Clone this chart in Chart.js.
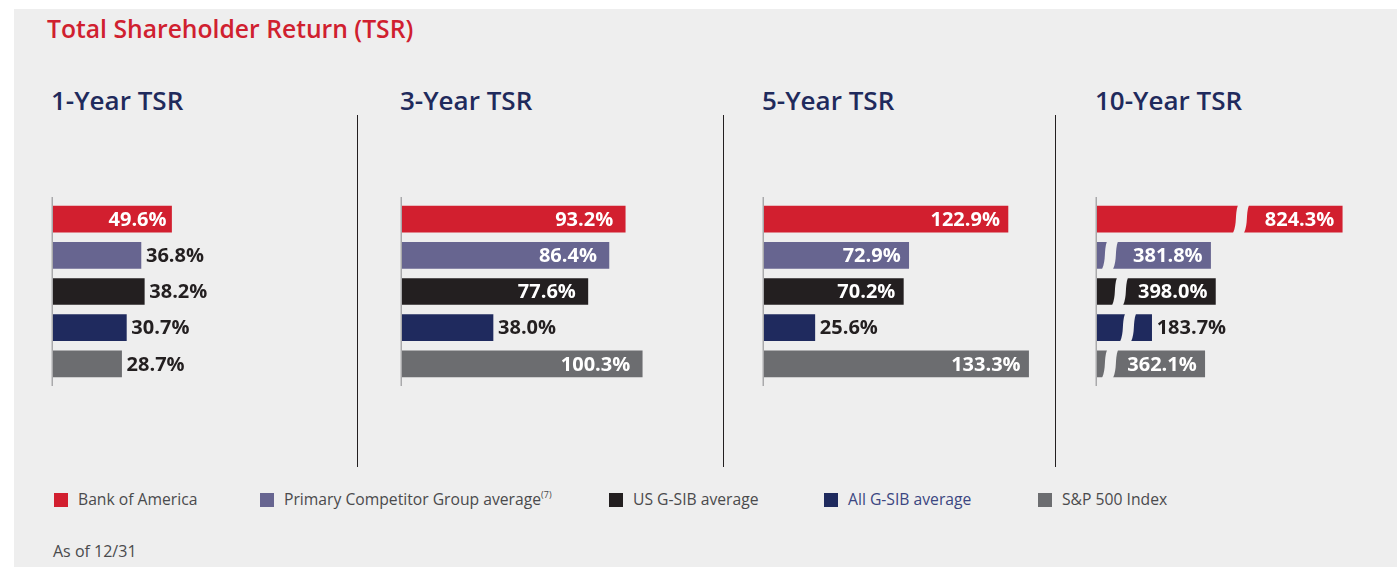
<!DOCTYPE html>
<html>
<head>
<meta charset="utf-8">
<script src="https://cdn.jsdelivr.net/npm/chart.js@4.4.1/dist/chart.umd.min.js"></script>
<style>
  html, body { margin: 0; padding: 0; background: #ffffff; }
  body { width: 1397px; height: 567px; position: relative; overflow: hidden; font-family: "Open Sans", sans-serif; }
  #panel { position: absolute; left: 14px; top: 9px; width: 1383px; height: 558px; background: #eeeeee; }
  .abs { position: absolute; white-space: nowrap; }
  #title { left: 47px; top: 12px; font-size: 24.7px; font-weight: 600; color: #d0202f; }
  .head { top: 82px; font-size: 26px; font-weight: 600; color: #1f2a5c; }
  .sep { width: 1px; top: 115px; height: 352px; background: #231f20; }
  .sw { width: 14px; height: 14px; top: 493px; }
  .lg { top: 488px; font-size: 15.7px; color: #4a4a4c; }
  .lg sup { font-size: 9px; vertical-align: 7px; }
  #asof { left: 53px; top: 540px; font-size: 16px; color: #4a4a4c; }
  canvas { position: absolute; }
</style>
</head>
<body>
<div id="panel"></div>
<div id="title" class="abs">Total Shareholder Return (TSR)</div>
<div id="asof" class="abs">As of 12/31</div>

<script>
const groups = ["Bank of America", "Primary Competitor Group average", "US G-SIB average", "All G-SIB average", "S&P 500 Index"];
const periods = ["1-Year TSR", "3-Year TSR", "5-Year TSR", "10-Year TSR"];
const tsr1 = [49.6, 36.8, 38.2, 30.7, 28.7];
const tsr3 = [93.2, 86.4, 77.6, 38.0, 100.3];
const tsr5 = [122.9, 72.9, 70.2, 25.6, 133.3];
const tsr10 = [824.3, 381.8, 398.0, 183.7, 362.1];

const colors = ["#d21f2f", "#676590", "#231f20", "#1f2a5e", "#6c6d70"];

// layout of the four panels (bar start x, px per %, inner label padding)
const panels = [
  { data: tsr1, left: 53, width: 290, scale: 2.39, pad: 5 },
  { data: tsr3, left: 402, width: 300, scale: 2.395, pad: 12 },
  { data: tsr5, left: 764, width: 290, scale: 1.985, pad: 8 },
  { data: tsr10, left: 1097, width: 300, scale: 0.2975, pad: 8, breaks: [144, 13, 23, 31, 13] },
];
const sepX = [357, 723, 1055];

// headings + separators
panels.forEach((p, i) => {
  const h = document.createElement("div");
  h.className = "abs head";
  h.style.left = (p.left - 2) + "px";
  h.textContent = periods[i];
  document.body.appendChild(h);
});
sepX.forEach(x => {
  const s = document.createElement("div");
  s.className = "abs sep";
  s.style.left = x + "px";
  document.body.appendChild(s);
});

// legend
const lgX = [54, 260, 609, 824, 1038];
groups.forEach((g, i) => {
  const sw = document.createElement("div");
  sw.className = "abs sw";
  sw.style.left = lgX[i] + "px";
  sw.style.background = colors[i];
  document.body.appendChild(sw);
  const t = document.createElement("div");
  t.className = "abs lg";
  t.style.left = (lgX[i] + 24) + "px";
  t.textContent = g;
  if (i === 1) {
    const s = document.createElement("sup");
    s.textContent = "(7)";
    t.appendChild(s);
  }
  if (i === 3) t.style.color = "#3b4681";
  document.body.appendChild(t);
});

const axisLine = {
  id: "axisLine",
  beforeDatasetsDraw(chart) {
    const a = chart.chartArea, ctx = chart.ctx;
    ctx.save();
    ctx.fillStyle = "#a9a9ab";
    ctx.fillRect(a.left - 1.5, a.top - 4, 1.5, a.bottom - a.top + 8);
    ctx.restore();
  }
};

const barBreaks = {
  id: "barBreaks",
  afterDatasetsDraw(chart, args, opts) {
    if (!opts.offsets) return;
    const ctx = chart.ctx, a = chart.chartArea;
    const meta = chart.getDatasetMeta(0);
    ctx.save();
    ctx.fillStyle = "#eeeeee";
    meta.data.forEach((bar, i) => {
      const cx = a.left + opts.offsets[i];
      const top = bar.y - bar.height / 2 - 1, bot = bar.y + bar.height / 2 + 1;
      const w = 5.5, sl = 2.5, h = bot - top;
      ctx.beginPath();
      ctx.moveTo(cx - w + sl, top);
      ctx.bezierCurveTo(cx - w - 1, top + h * 0.35, cx - w + 2, top + h * 0.65, cx - w - sl, bot);
      ctx.lineTo(cx + w - sl, bot);
      ctx.bezierCurveTo(cx + w + 2, top + h * 0.65, cx + w - 1, top + h * 0.35, cx + w + sl, top);
      ctx.closePath();
      ctx.fill();
    });
    ctx.restore();
  }
};

const valueLabels = {
  id: "valueLabels",
  afterDatasetsDraw(chart, args, opts) {
    const ctx = chart.ctx;
    const ds = chart.data.datasets[0];
    const meta = chart.getDatasetMeta(0);
    ctx.save();
    ctx.font = "bold 20px 'Open Sans'";
    ctx.textBaseline = "middle";
    meta.data.forEach((bar, i) => {
      const txt = ds.data[i].toFixed(1) + "%";
      const len = bar.x - bar.base;
      if (len > 100) {
        ctx.fillStyle = "#ffffff";
        ctx.textAlign = "right";
        ctx.fillText(txt, bar.x - opts.pad, bar.y + 1);
      } else {
        ctx.fillStyle = "#231f20";
        ctx.textAlign = "left";
        ctx.fillText(txt, bar.x + 5, bar.y + 1);
      }
    });
    ctx.restore();
  }
};

panels.forEach((p, i) => {
  const cv = document.createElement("canvas");
  cv.width = p.width + 10;
  cv.height = 200;
  cv.style.left = (p.left - 10) + "px";
  cv.style.top = "190px";
  cv.style.width = (p.width + 10) + "px";
  cv.style.height = "200px";
  document.body.appendChild(cv);

  new Chart(cv, {
    type: "bar",
    data: {
      labels: groups,
      datasets: [{
        data: p.data,
        backgroundColor: colors,
        barThickness: 26,
        borderWidth: 0,
      }],
    },
    options: {
      indexAxis: "y",
      responsive: false,
      animation: false,
      layout: { padding: { left: 10, right: 0, top: 11, bottom: 8 } },
      scales: {
        x: { display: false, min: 0, max: p.width / p.scale },
        y: { display: false },
      },
      plugins: {
        legend: { display: false },
        tooltip: { enabled: false },
        barBreaks: { offsets: p.breaks },
        valueLabels: { pad: p.pad },
      },
    },
    plugins: [axisLine, barBreaks, valueLabels],
  });
});
</script>
</body>
</html>
